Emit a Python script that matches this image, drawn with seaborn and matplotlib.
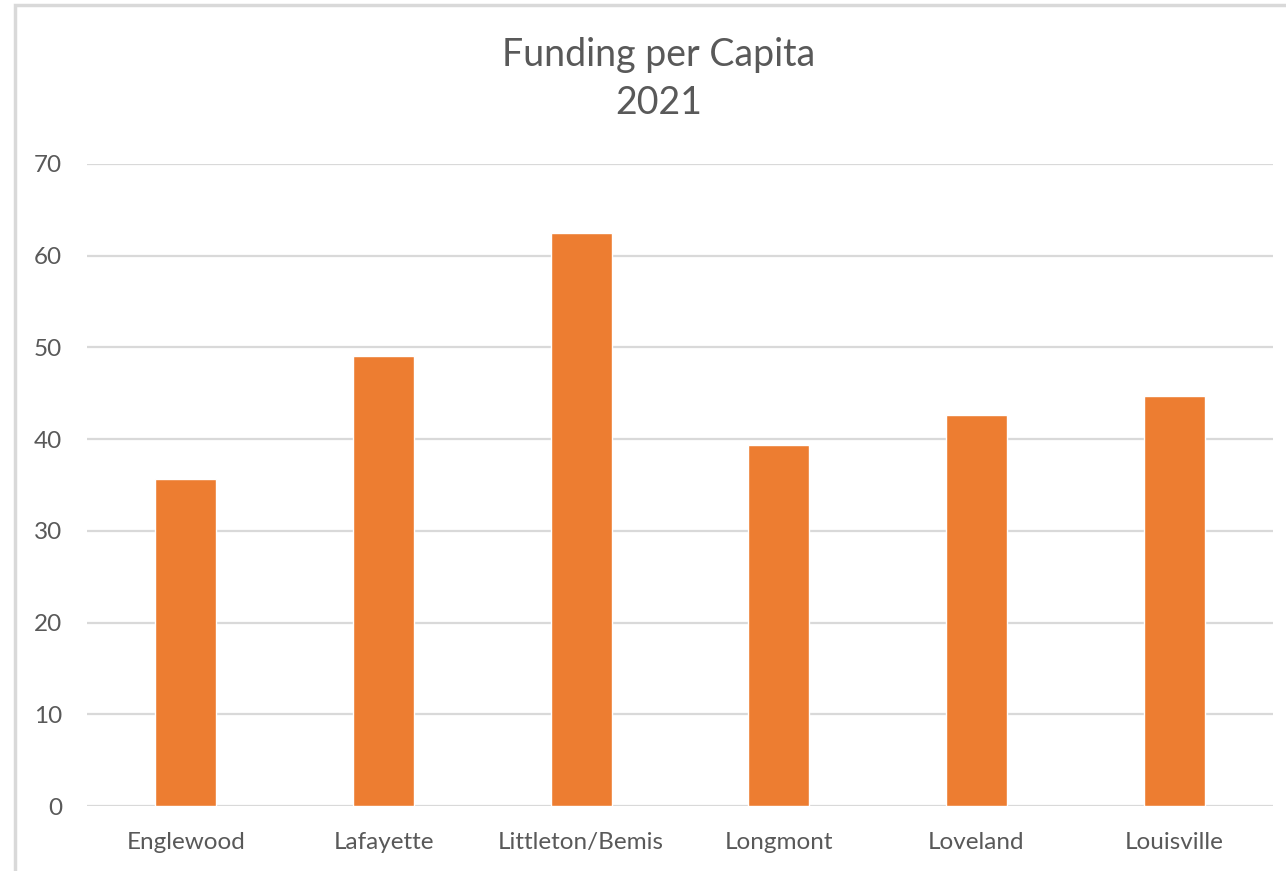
import matplotlib
matplotlib.use("Agg")
import matplotlib.pyplot as plt
import seaborn as sns
import pandas as pd
from matplotlib.patches import Rectangle

# Funding per capita by library, 2021
cities = ["Englewood", "Lafayette", "Littleton/Bemis", "Longmont", "Loveland", "Louisville"]
funding = [35.7, 49.1, 62.5, 39.4, 42.6, 44.7]
y_ticks = [0, 10, 20, 30, 40, 50, 60, 70]

df = pd.DataFrame({"city": cities, "funding": funding})

sns.set_theme(style="white")
plt.rcParams["font.family"] = ["Lato", "DejaVu Sans"]

TEXT = "#595959"
GRID = "#d9d9d9"
BAR = "#ed7d31"

W, H = 1286, 871
fig = plt.figure(figsize=(W / 100, H / 100), dpi=100)
fig.patch.set_facecolor("white")

# outer chart frame (only top and left edges fall inside the canvas)
fig.add_artist(Rectangle((15 / W, -0.1), 1.2, (H - 5) / H + 0.1,
                         transform=fig.transFigure, fill=False,
                         edgecolor=GRID, linewidth=2.5))

ax = fig.add_axes([87 / W, (H - 806) / H, (1273 - 87) / W, (806 - 164) / H])
sns.barplot(data=df, x="city", y="funding", color=BAR, saturation=1,
            width=0.31, ax=ax, zorder=3)

ax.set_ylim(0, 70)
ax.set_xlim(-0.5, len(cities) - 0.5)
ax.set_yticks(y_ticks)
ax.set_yticklabels([str(t) for t in y_ticks])
for t in y_ticks:
    ax.axhline(t, color=GRID, linewidth=1.6, zorder=1)

for s in ax.spines.values():
    s.set_visible(False)
ax.tick_params(axis="both", length=0, colors=TEXT, labelsize=17.5)
ax.tick_params(axis="y", pad=18)
ax.tick_params(axis="x", pad=18.5)
ax.set_xlabel("")
ax.set_ylabel("")

fig.text(659 / W, 1 - 55 / H, "Funding per Capita", ha="center", va="center",
         fontsize=27, color=TEXT)
fig.text(659 / W, 1 - 103 / H, "2021", ha="center", va="center",
         fontsize=27, color=TEXT)

fig.savefig("out.png", dpi=100, facecolor="white")
